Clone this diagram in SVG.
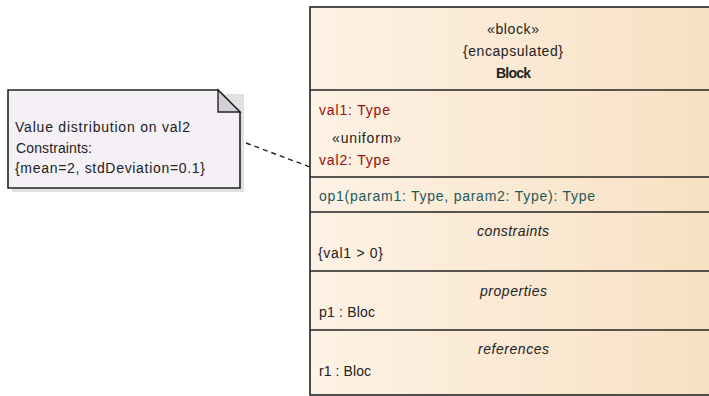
<svg xmlns="http://www.w3.org/2000/svg" width="709" height="396" viewBox="0 0 709 396">
<style>
text{font-family:"Liberation Sans",Arial,sans-serif;font-size:14px;fill:#222}
.b{font-weight:bold}
.i{font-style:italic}
.red{fill:#990e0e}
.teal{fill:#1d5a5a}
.ln{stroke:#222;stroke-width:1.6;fill:none}
</style>
<defs>
<linearGradient id="g" x1="310" y1="0" x2="709" y2="0" gradientUnits="userSpaceOnUse">
<stop offset="0" stop-color="#fdf2e5"/>
<stop offset="1" stop-color="#f7e1c2"/>
</linearGradient>
</defs>
<g id="note">
<rect x="12" y="94" width="232" height="98" fill="#d4d4d4" opacity="0.7"/>
<path d="M8 90 H218 L240 112 V188 H8 Z" fill="#f4f0f5" stroke="#222" stroke-width="1.6"/>
<path d="M218 90 V112 H240 Z" fill="#d2cfd6" stroke="#222" stroke-width="1.4"/>
<text x="15" y="132" textLength="175" font-size="14.5">Value distribution on val2</text>
<text x="16" y="153" textLength="76" font-size="14.5">Constraints:</text>
<text x="15" y="173" textLength="190" font-size="14.5">{mean=2, stdDeviation=0.1}</text>
</g>
<g id="connectors">
<path d="M246 143 L310 167" stroke="#222" stroke-width="1.4" stroke-dasharray="5,4" fill="none"/>
</g>
<g id="block">
<rect x="310" y="7" width="410" height="388" fill="url(#g)" stroke="#222" stroke-width="1.6"/>
<line class="ln" x1="310" y1="90" x2="709" y2="90"/>
<line class="ln" x1="310" y1="177" x2="709" y2="177"/>
<line class="ln" x1="310" y1="212" x2="709" y2="212"/>
<line class="ln" x1="310" y1="271" x2="709" y2="271"/>
<line class="ln" x1="310" y1="330" x2="709" y2="330"/>
<text x="487" y="33.5" textLength="52">«block»</text>
<text x="463" y="55.5" textLength="100">{encapsulated}</text>
<text class="b" x="496" y="78" textLength="35">Block</text>
<text class="red" x="319" y="115" textLength="71">val1: Type</text>
<text x="332" y="143" textLength="69">«uniform»</text>
<text class="red" x="319" y="165" textLength="71">val2: Type</text>
<text class="teal" x="319" y="201" textLength="276">op1(param1: Type, param2: Type): Type</text>
<text class="i" x="477" y="236" textLength="72">constraints</text>
<text x="318" y="257.5" textLength="65">{val1 &gt; 0}</text>
<text class="i" x="480" y="296" textLength="67">properties</text>
<text x="319" y="317" textLength="56">p1 : Bloc</text>
<text class="i" x="478" y="354" textLength="71">references</text>
<text x="319" y="376" textLength="52">r1 : Bloc</text>
</g>
</svg>
